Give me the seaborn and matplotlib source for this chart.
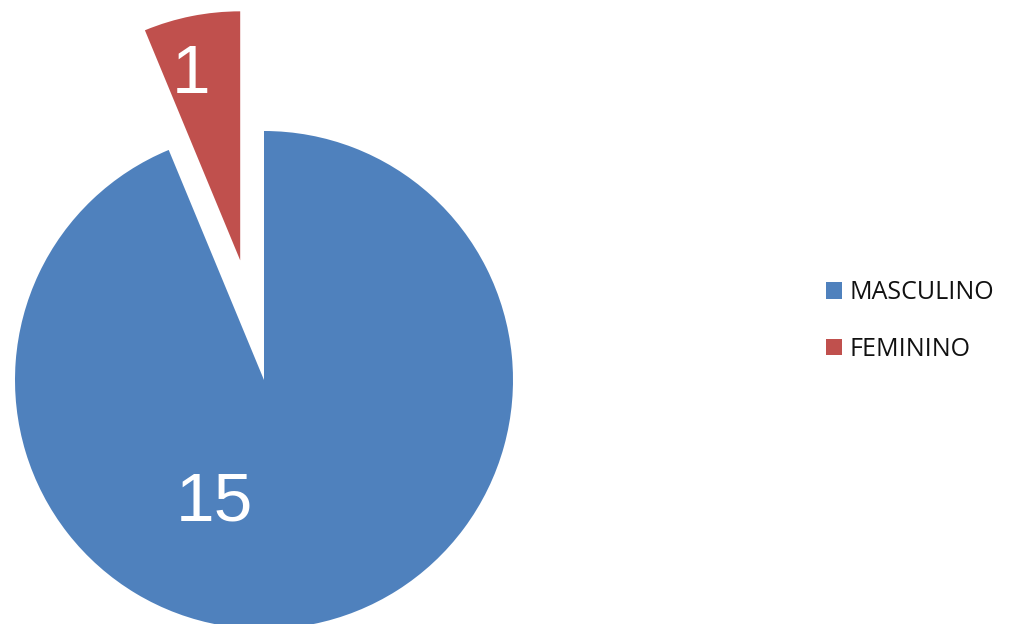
import matplotlib
matplotlib.use("Agg")
import matplotlib.pyplot as plt
import seaborn as sns
from matplotlib.patches import Patch

# data
labels = ["MASCULINO", "FEMININO"]
counts = [15, 1]
colors = ["#4F81BD", "#C0504D"]

sns.set_theme(style="white")
plt.rcParams['font.family'] = ['Liberation Sans', 'DejaVu Sans']

fig = plt.figure(figsize=(10.23, 6.24), dpi=100)
ax = fig.add_axes([0, 0, 1, 1])

# pie centre / radius in pixels
cx, cy, r = 264, 380, 249
wedges, texts, autotexts = ax.pie(
    counts, colors=colors, startangle=90, counterclock=False,
    explode=[0, 0.49], radius=1,
    autopct=lambda p: "%d" % round(p * sum(counts) / 100),
    pctdistance=0.78,
    wedgeprops=dict(linewidth=0),
    textprops=dict(color="white", fontsize=50),
)
autotexts[0].set_position((-0.2, -0.49))
x1, y1 = autotexts[1].get_position()
autotexts[1].set_position((x1 - 0.045, y1 - 0.02))

ax.set_xlim(-cx / r, (1023 - cx) / r)
ax.set_ylim(-(624 - cy) / r, cy / r)
ax.set_aspect("auto")
ax.axis("off")

handles = [Patch(facecolor=c, edgecolor="none") for c in colors]
leg = fig.legend(handles, labels, loc="center left",
                 bbox_to_anchor=(826 / 1023, 1 - 321 / 624),
                 frameon=False, borderpad=0, borderaxespad=0,
                 handlelength=0.62, handleheight=0.62, handletextpad=0.3,
                 labelspacing=1.25, prop=dict(family="Open Sans", size=18))
for t in leg.get_texts():
    t.set_color("#111111")

fig.savefig("out.png", dpi=100, facecolor="white")
